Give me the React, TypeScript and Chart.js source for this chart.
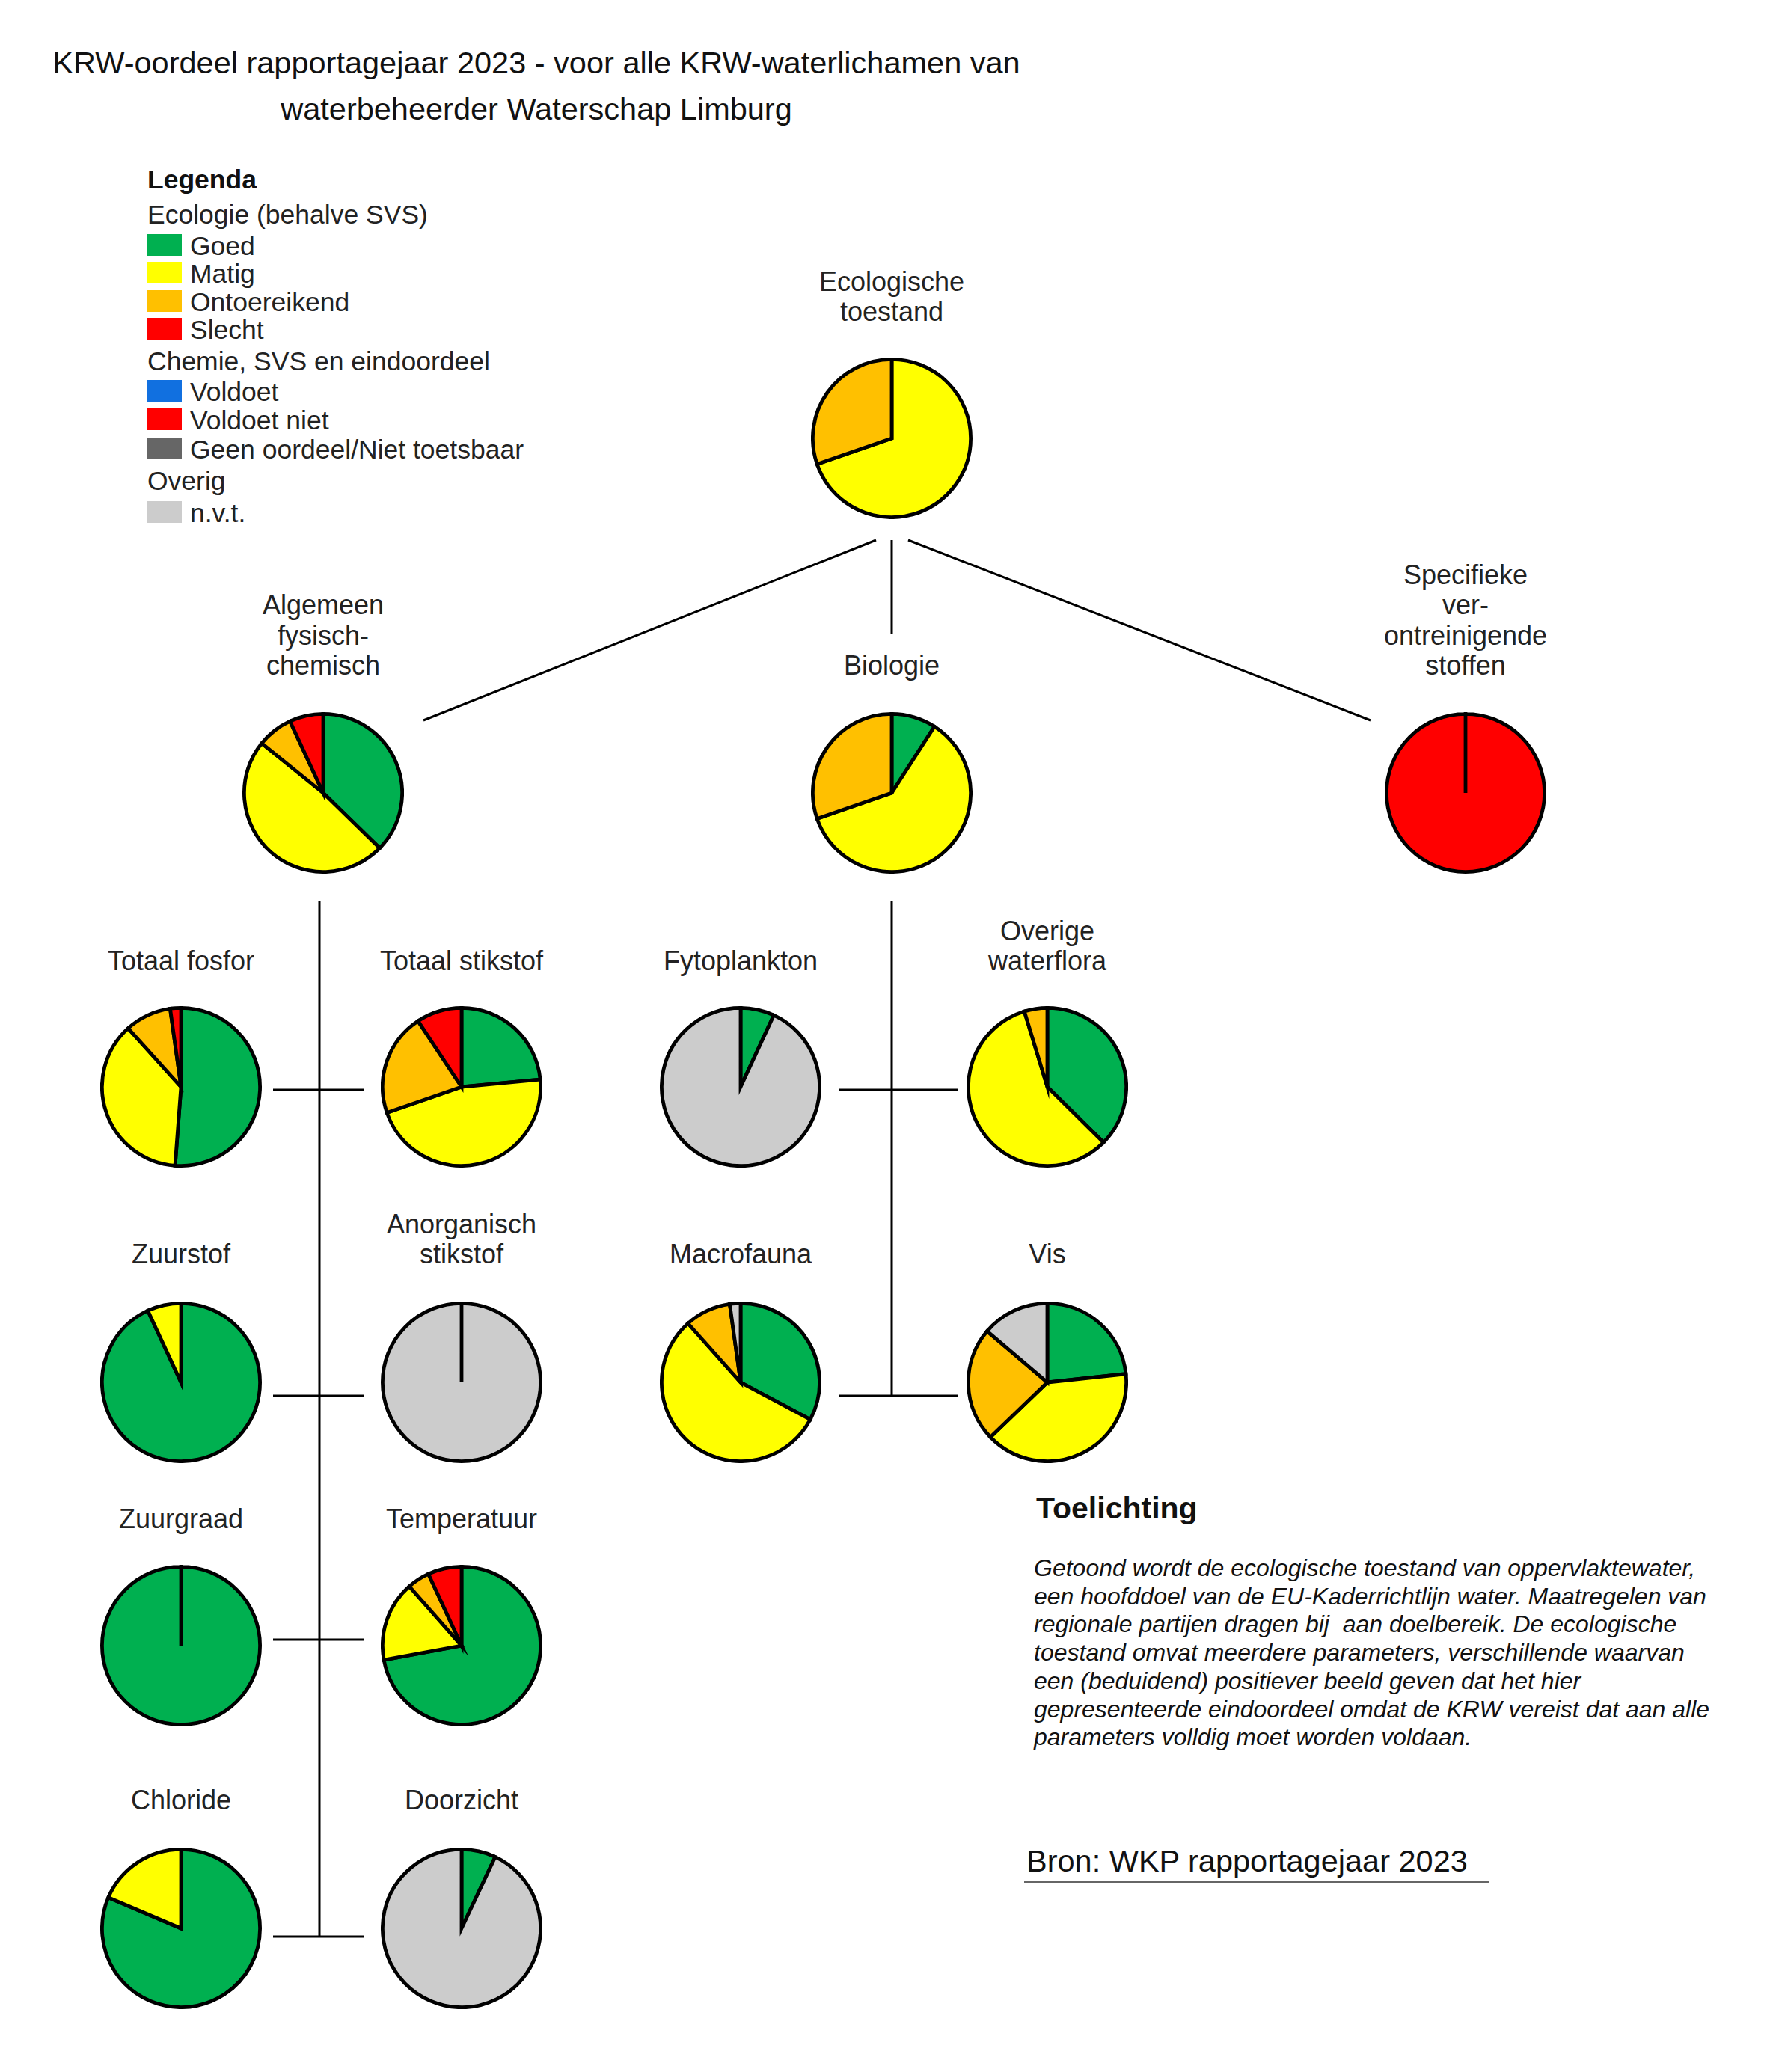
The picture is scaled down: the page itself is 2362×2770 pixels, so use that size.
import React, { useEffect, useRef } from "react";
import { Chart, registerables } from "chart.js";

Chart.register(...registerables);

// ---------------- DATA ----------------
const ecologyCategories = ["Goed", "Matig", "Ontoereikend", "Slecht", "n.v.t."];
const ecologyColors = ["#00B050", "#FFFF00", "#FFC000", "#FF0000", "#CCCCCC"];
const chemistryCategories = ["Voldoet", "Voldoet niet", "Geen oordeel/Niet toetsbaar", "n.v.t."];
const chemistryColors = ["#1170E0", "#FF0000", "#666666", "#CCCCCC"];

// shares (%) per category, same order as ecologyCategories
const ecologischeToestand = [0, 69.7, 30.3, 0, 0];
const algemeenFysischChemisch = [37.3, 48.5, 7.3, 6.9, 0];
const biologie = [9.1, 60.6, 30.3, 0, 0];
const totaalFosfor = [51.2, 37.1, 9.5, 2.2, 0];
const totaalStikstof = [23.5, 46.2, 21.0, 9.3, 0];
const zuurstof = [93.1, 6.9, 0, 0, 0];
const anorganischStikstof = [0, 0, 0, 0, 100];
const zuurgraad = [100, 0, 0, 0, 0];
const temperatuur = [72.1, 16.4, 4.6, 6.9, 0];
const chloride = [81.4, 18.6, 0, 0, 0];
const doorzicht = [7.0, 0, 0, 0, 93.0];
const fytoplankton = [6.9, 0, 0, 0, 93.1];
const overigeWaterflora = [37.4, 57.9, 4.7, 0, 0];
const macrofauna = [32.8, 55.6, 9.4, 0, 2.2];
const vis = [23.3, 39.5, 23.4, 0, 13.8];
// same order as chemistryCategories
const specifiekeStoffen = [0, 100, 0, 0];

// legend
const legendEcologyTitle = "Ecologie (behalve SVS)";
const legendChemistryTitle = "Chemie, SVS en eindoordeel";
const legendOtherTitle = "Overig";
const legendOtherItems = ["n.v.t."];

const titleLines = [
  "KRW-oordeel rapportagejaar 2023 - voor alle KRW-waterlichamen van",
  "waterbeheerder Waterschap Limburg",
];
const noteTitle = "Toelichting";
const noteLines = [
  "Getoond wordt de ecologische toestand van oppervlaktewater,",
  "een hoofddoel van de EU-Kaderrichtlijn water. Maatregelen van",
  "regionale partijen dragen bij  aan doelbereik. De ecologische",
  "toestand omvat meerdere parameters, verschillende waarvan",
  "een (beduidend) positiever beeld geven dat het hier",
  "gepresenteerde eindoordeel omdat de KRW vereist dat aan alle",
  "parameters volldig moet worden voldaan.",
];
const sourceText = "Bron: WKP rapportagejaar 2023";

// ---------------- LAYOUT ----------------
const FONT = '"Liberation Sans", Arial, Helvetica, sans-serif';
const PIE = 216;
const TEXT = "#222222";

type PieSpec = {
  title: string[];
  values: number[];
  labels: string[];
  colors: string[];
  cx: number;
  cy: number;
  base: number; // baseline of the last title line
};

const pies: PieSpec[] = [
  { title: ["Ecologische", "toestand"], values: ecologischeToestand, labels: ecologyCategories, colors: ecologyColors, cx: 1192, cy: 586, base: 430 },
  { title: ["Algemeen", "fysisch-", "chemisch"], values: algemeenFysischChemisch, labels: ecologyCategories, colors: ecologyColors, cx: 432, cy: 1060, base: 903 },
  { title: ["Biologie"], values: biologie, labels: ecologyCategories, colors: ecologyColors, cx: 1192, cy: 1060, base: 903 },
  { title: ["Specifieke", "ver-", "ontreinigende", "stoffen"], values: specifiekeStoffen, labels: chemistryCategories, colors: chemistryColors, cx: 1959, cy: 1060, base: 903 },
  { title: ["Totaal fosfor"], values: totaalFosfor, labels: ecologyCategories, colors: ecologyColors, cx: 242, cy: 1453, base: 1298 },
  { title: ["Totaal stikstof"], values: totaalStikstof, labels: ecologyCategories, colors: ecologyColors, cx: 617, cy: 1453, base: 1298 },
  { title: ["Zuurstof"], values: zuurstof, labels: ecologyCategories, colors: ecologyColors, cx: 242, cy: 1848, base: 1690 },
  { title: ["Anorganisch", "stikstof"], values: anorganischStikstof, labels: ecologyCategories, colors: ecologyColors, cx: 617, cy: 1848, base: 1690 },
  { title: ["Zuurgraad"], values: zuurgraad, labels: ecologyCategories, colors: ecologyColors, cx: 242, cy: 2200, base: 2044 },
  { title: ["Temperatuur"], values: temperatuur, labels: ecologyCategories, colors: ecologyColors, cx: 617, cy: 2200, base: 2044 },
  { title: ["Chloride"], values: chloride, labels: ecologyCategories, colors: ecologyColors, cx: 242, cy: 2578, base: 2420 },
  { title: ["Doorzicht"], values: doorzicht, labels: ecologyCategories, colors: ecologyColors, cx: 617, cy: 2578, base: 2420 },
  { title: ["Fytoplankton"], values: fytoplankton, labels: ecologyCategories, colors: ecologyColors, cx: 990, cy: 1453, base: 1298 },
  { title: ["Overige", "waterflora"], values: overigeWaterflora, labels: ecologyCategories, colors: ecologyColors, cx: 1400, cy: 1453, base: 1298 },
  { title: ["Macrofauna"], values: macrofauna, labels: ecologyCategories, colors: ecologyColors, cx: 990, cy: 1848, base: 1690 },
  { title: ["Vis"], values: vis, labels: ecologyCategories, colors: ecologyColors, cx: 1400, cy: 1848, base: 1690 },
];

const connectors: [number, number, number, number][] = [
  [1171, 722, 566, 963],
  [1192, 722, 1192, 847],
  [1214, 722, 1832, 963],
  [427, 1205, 427, 2589],
  [365, 1457, 487, 1457],
  [365, 1866, 487, 1866],
  [365, 2192, 487, 2192],
  [365, 2589, 487, 2589],
  [1192, 1205, 1192, 1866],
  [1121, 1457, 1280, 1457],
  [1121, 1866, 1280, 1866],
];

function topFor(firstBaseline: number, fs: number, lh: number) {
  return firstBaseline - ((lh - 1.117 * fs) / 2 + 0.905 * fs);
}

function TextBlock(props: {
  lines: string[];
  x: number;
  baseline: number; // baseline of first line
  fs: number;
  lh: number;
  align?: "left" | "center";
  weight?: string;
  italic?: boolean;
  color?: string;
}) {
  const { lines, x, baseline, fs, lh, align = "left", weight = "normal", italic = false, color = TEXT } = props;
  const top = topFor(baseline, fs, lh);
  const style: React.CSSProperties = {
    position: "absolute",
    top,
    left: align === "center" ? x - 1000 : x,
    width: align === "center" ? 2000 : undefined,
    textAlign: align,
    fontFamily: FONT,
    fontSize: fs,
    lineHeight: lh + "px",
    fontWeight: weight as any,
    fontStyle: italic ? "italic" : "normal",
    color,
    whiteSpace: "pre",
    margin: 0,
  };
  return (
    <div style={style}>
      {lines.map((l, i) => (
        <div key={i}>{l}</div>
      ))}
    </div>
  );
}

function PieChart({ spec }: { spec: PieSpec }) {
  const ref = useRef<HTMLCanvasElement>(null);
  useEffect(() => {
    const chart = new Chart(ref.current as HTMLCanvasElement, {
      type: "pie",
      data: {
        labels: spec.labels,
        datasets: [
          {
            data: spec.values,
            backgroundColor: spec.colors,
            borderColor: "#000000",
            borderWidth: 4.8,
            borderJoinStyle: "miter",
          } as any,
        ],
      },
      options: {
        animation: false,
        responsive: false,
        maintainAspectRatio: false,
        events: [],
        layout: { padding: 0 },
        plugins: { legend: { display: false }, tooltip: { enabled: false } },
      },
    });
    return () => chart.destroy();
  }, []);
  return (
    <canvas
      ref={ref}
      width={PIE}
      height={PIE}
      style={{ position: "absolute", left: spec.cx - PIE / 2, top: spec.cy - PIE / 2, width: PIE, height: PIE }}
    />
  );
}

const legendRows = {
  legenda: 252.5,
  eco: 299,
  chem: 495,
  other: 655,
  ecoItems: [341, 378, 416, 453],
  chemItems: [536, 574, 613],
  otherItems: [698],
};

function Swatch({ color, baseline }: { color: string; baseline: number }) {
  return (
    <div
      style={{ position: "absolute", left: 197, top: baseline - 28, width: 46, height: 29, background: color }}
    />
  );
}

export default function App() {
  useEffect(() => {
    document.body.style.margin = "0";
    document.body.style.background = "#ffffff";
  }, []);
  const fs = 36;
  const lh = 40.5;
  const legendFs = 35.5;
  const noteLh = 37.7;
  return (
    <div style={{ position: "absolute", left: 0, top: 0, width: 2362, height: 2770, background: "#ffffff", overflow: "hidden" }}>
      <svg width={2362} height={2770} style={{ position: "absolute", left: 0, top: 0 }}>
        {connectors.map((c, i) => (
          <line key={i} x1={c[0]} y1={c[1]} x2={c[2]} y2={c[3]} stroke="#000" strokeWidth={3} />
        ))}
        <line x1={1369} y1={2516} x2={1991} y2={2516} stroke="#666" strokeWidth={2} />
      </svg>

      <TextBlock lines={[titleLines[0]]} x={717} baseline={98.6} fs={41.5} lh={62} align="center" color="#111" />
      <TextBlock lines={[titleLines[1]]} x={717} baseline={160.5} fs={41.5} lh={62} align="center" color="#111" />

      <TextBlock lines={["Legenda"]} x={197} baseline={legendRows.legenda} fs={legendFs} lh={40} weight="bold" color="#111" />
      <TextBlock lines={[legendEcologyTitle]} x={197} baseline={legendRows.eco} fs={legendFs} lh={40} />
      {ecologyCategories.slice(0, 4).map((c, i) => (
        <React.Fragment key={"e" + i}>
          <Swatch color={ecologyColors[i]} baseline={legendRows.ecoItems[i]} />
          <TextBlock lines={[c]} x={254} baseline={legendRows.ecoItems[i]} fs={legendFs} lh={40} />
        </React.Fragment>
      ))}
      <TextBlock lines={[legendChemistryTitle]} x={197} baseline={legendRows.chem} fs={legendFs} lh={40} />
      {chemistryCategories.slice(0, 3).map((c, i) => (
        <React.Fragment key={"c" + i}>
          <Swatch color={chemistryColors[i]} baseline={legendRows.chemItems[i]} />
          <TextBlock lines={[c]} x={254} baseline={legendRows.chemItems[i]} fs={legendFs} lh={40} />
        </React.Fragment>
      ))}
      <TextBlock lines={[legendOtherTitle]} x={197} baseline={legendRows.other} fs={legendFs} lh={40} />
      {legendOtherItems.map((c, i) => (
        <React.Fragment key={"o" + i}>
          <Swatch color={ecologyColors[4]} baseline={legendRows.otherItems[i]} />
          <TextBlock lines={[c]} x={254} baseline={legendRows.otherItems[i]} fs={legendFs} lh={40} />
        </React.Fragment>
      ))}

      {pies.map((p, i) => (
        <React.Fragment key={"p" + i}>
          <TextBlock lines={p.title} x={p.cx} baseline={p.base - (p.title.length - 1) * lh} fs={fs} lh={lh} align="center" />
          <PieChart spec={p} />
        </React.Fragment>
      ))}

      <TextBlock lines={[noteTitle]} x={1385} baseline={2030.5} fs={41} lh={46} weight="bold" color="#111" />
      <TextBlock lines={noteLines} x={1382} baseline={2108} fs={32} lh={noteLh} italic color="#111" />
      <TextBlock lines={[sourceText]} x={1372} baseline={2502} fs={41.5} lh={46} color="#111" />
    </div>
  );
}
